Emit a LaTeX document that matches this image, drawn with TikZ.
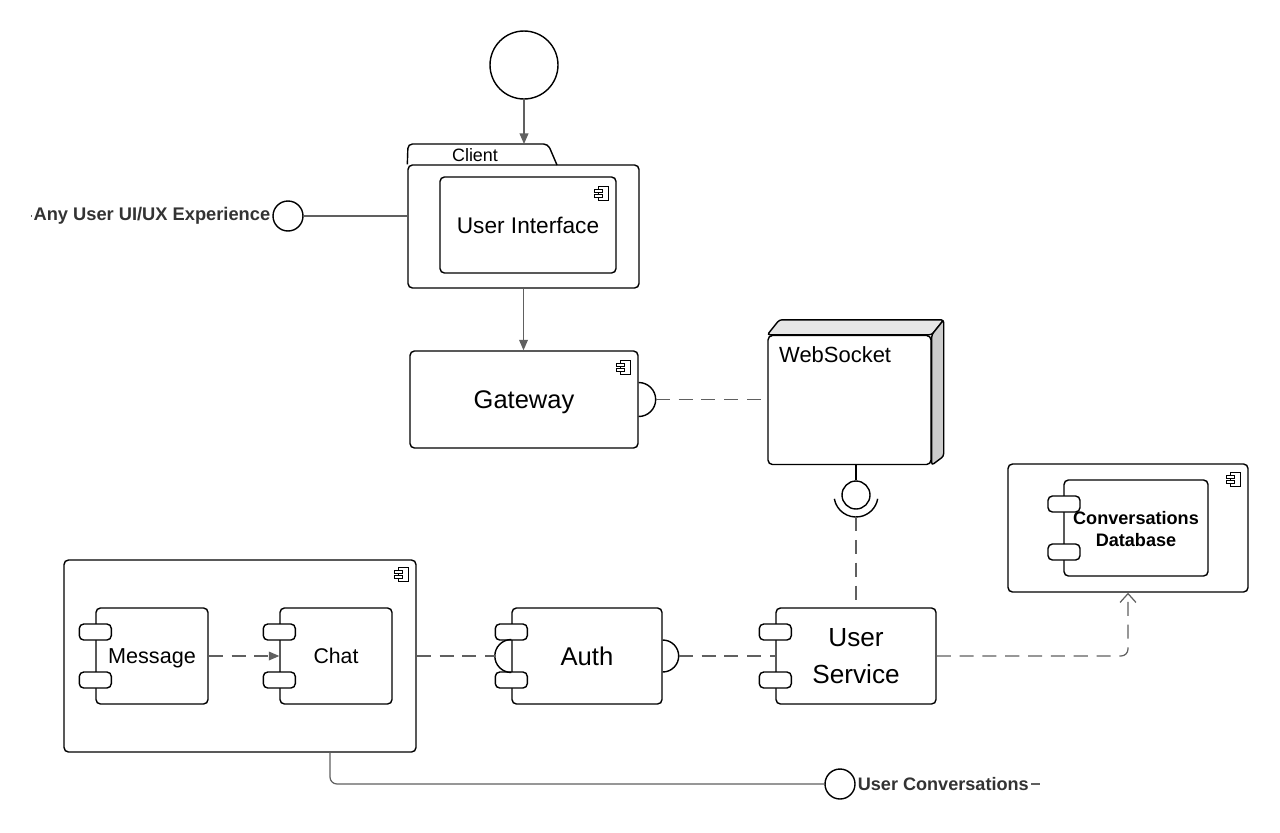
\documentclass[tikz,border=0pt]{standalone}
\usepackage{fontspec}
\setmainfont{Liberation Sans}
\usetikzlibrary{arrows.meta,calc,positioning}
\tikzset{>=Stealth}
\definecolor{linegray}{RGB}{96,96,96}
\definecolor{lblgray}{RGB}{51,51,51}
\definecolor{topface}{RGB}{230,230,230}
\definecolor{sideface}{RGB}{204,204,204}
\tikzset{
  compbox/.style={draw=black,line width=0.8pt,rounded corners=2.5pt,fill=white,inner sep=0pt},
  comptab/.style={compbox,minimum width=0.64cm,minimum height=0.32cm},
  conn/.style={draw=linegray,line width=0.7pt},
  dashconn/.style={conn,dash pattern=on 8pt off 5pt},
  iface/.style={circle,draw=black,line width=0.8pt,fill=white,inner sep=0pt},
  ifacelbl/.style={text=lblgray,fill=white,inner sep=1pt},
  compicon/.pic={
    \draw[line width=0.5pt] (-10,0) rectangle (0,14);
    \draw[line width=0.5pt,fill=white] (-14,3) rectangle (-6,6) (-14,8) rectangle (-6,11);
  }
}

\begin{document}
\begin{tikzpicture}[x=0.02cm,y=-0.02cm]
  \useasboundingbox (0,0) rectangle (1280,832);

  % start and client package
  \node[iface,minimum size=1.36cm] (start) at (524,65) {};
  \node[compbox,minimum width=4.62cm,minimum height=2.46cm] (client) at (523.5,226.5) {};
  \draw[line width=0.8pt,rounded corners=2.5pt] (client.north west) -- (408,144) -- (548,144) -- (557,165);
  \coordinate (tabtop) at (524,144);
  \node[font=\fontsize{10.2}{12}\selectfont] (clientlbl) at (475,155) {Client};
  \node[compbox,minimum width=3.52cm,minimum height=1.92cm,font=\fontsize{12.9}{15}\selectfont] (ui) at (528,225) {User Interface};
  \pic at ([shift={(-8,10)}]ui.north east) {compicon};
  \draw[conn,-{Triangle[length=6pt,width=5pt]}] (start) -- (tabtop);

  % ui/ux interface
  \node[iface,minimum size=0.6cm] (uiux) at (288,216) {};
  \coordinate (uiuxend) at (31,216);
  \draw[conn] (uiux.east) -- (uiux.east -| client.west);
  \draw[conn] (uiux.west) -- (uiuxend);
  \node[ifacelbl,anchor=east,font=\bfseries\fontsize{10.4}{12}\selectfont] (uiuxlbl) at (uiux.west) {Any User UI/UX Experience};

  % gateway
  \node[compbox,minimum width=4.56cm,minimum height=1.94cm,text depth=0pt,font=\fontsize{14.5}{17}\selectfont] (gw) at (524,399.5) {Gateway};
  \pic at ([shift={(-8,10)}]gw.north east) {compicon};
  \draw[conn,-{Triangle[length=6pt,width=5pt]}] (client.south) -- (client.south |- gw.north);

  % websocket node
  \node[compbox,minimum width=3.26cm,minimum height=2.58cm] (ws) at (849.5,400) {};
  \draw[line width=0.8pt,fill=topface,rounded corners=1.5pt] (ws.north west) -- ([shift={(12,-15)}]ws.north west)
    -- ([shift={(12,-15)}]ws.north east) -- (ws.north east) -- cycle;
  \draw[line width=0.8pt,fill=sideface,rounded corners=1.5pt] (ws.north east) -- ([shift={(12,-15)}]ws.north east)
    -- ([shift={(12,-9)}]ws.south east) -- (ws.south east) -- cycle;
  \node[anchor=north west,inner sep=2pt,font=\fontsize{12.5}{15}\selectfont] (wslbl) at ([shift={(8,8)}]ws.north west) {WebSocket};

  % gateway socket
  \draw[line width=0.8pt] ([yshift=0.34cm]gw.east) arc[start angle=90,end angle=-90,radius=0.34cm];
  \coordinate (gwsock) at ([xshift=0.34cm]gw.east);
  \draw[dashconn] (gwsock) -- (gwsock -| ws.west);

  % websocket port
  \node[iface,minimum size=0.56cm] (wsport) at (856,495) {};
  \draw[line width=0.8pt] (wsport.north) -- (wsport.north |- ws.south);
  \draw[line width=0.8pt] (wsport.center) ++(190:0.44cm) arc[start angle=190,end angle=350,radius=0.44cm];
  \coordinate (wssock) at ([yshift=-0.44cm]wsport.center);

  % conversations database
  \node[compbox,minimum width=4.8cm,minimum height=2.56cm] (db) at (1128,528) {};
  \pic at ([shift={(-8,9)}]db.north east) {compicon};
  \node[compbox,minimum width=2.88cm,minimum height=1.92cm] (dbinner) at (1136,528) {};
  \node[comptab] (dbtab1) at (1064,504) {};
  \node[comptab] (dbtab2) at (1064,552) {};
  \node[align=center,font=\bfseries\fontsize{10.3}{12}\selectfont] (dblbl) at (1136,529) {Conversations\\Database};

  % chat service
  \node[compbox,minimum width=7.04cm,minimum height=3.84cm] (chatsvc) at (240,656) {};
  \pic at ([shift={(-8,8)}]chatsvc.north east) {compicon};

  % components with tabs
  \foreach \nm/\cx/\bw/\tsz/\txt in {msg/152/2.24/12.3/Message, chat/336/2.24/12.1/Chat, auth/587/3.0/14.6/Auth} {
    \node[compbox,minimum width=\bw cm,minimum height=1.92cm,text depth=0pt,
      font=\fontsize{\tsz}{21}\selectfont] (\nm) at (\cx,656) {\txt};
    \node[comptab] at ([shift={(0,-24)}]\nm.west) {};
    \node[comptab] at ([shift={(0,24)}]\nm.west) {};
  }
  \node[compbox,minimum width=3.2cm,minimum height=1.92cm,align=center,
    font=\fontsize{14.9}{21}\selectfont] (usvc) at (856,656) {User\\Service};
  \node[comptab] at ([shift={(0,-24)}]usvc.west) {};
  \node[comptab] at ([shift={(0,24)}]usvc.west) {};

  % connectors
  \draw[dashconn,-{Triangle[length=6pt,width=5pt]}] (msg.east) -- (chat.west);
  \draw[line width=0.8pt] ([yshift=0.33cm]auth.west) arc[start angle=90,end angle=270,radius=0.33cm];
  \coordinate (authin) at ([xshift=-0.33cm]auth.west);
  \draw[dashconn] (chatsvc.east) -- (authin);
  \draw[line width=0.8pt] ([yshift=0.32cm]auth.east) arc[start angle=90,end angle=-90,radius=0.32cm];
  \coordinate (authout) at ([xshift=0.32cm]auth.east);
  \draw[dashconn] (authout) -- (usvc.west);
  \draw[dashconn] (wssock) -- (usvc.north);
  \draw[dashconn,rounded corners=4pt,-{Straight Barb[length=5pt,width=9pt]}] (usvc.east) -| (db.south);

  % user conversations interface
  \node[iface,minimum size=0.6cm] (uconv) at (840,784) {};
  \coordinate (uconvend) at (1040,784);
  \draw[conn,rounded corners=4pt] ([xshift=1.8cm]chatsvc.south) |- (uconv.west);
  \draw[conn] (uconv.east) -- (uconvend);
  \node[ifacelbl,anchor=west,font=\bfseries\fontsize{10.3}{12}\selectfont] (uconvlbl) at (uconv.east) {User Conversations};
\end{tikzpicture}
\end{document}
